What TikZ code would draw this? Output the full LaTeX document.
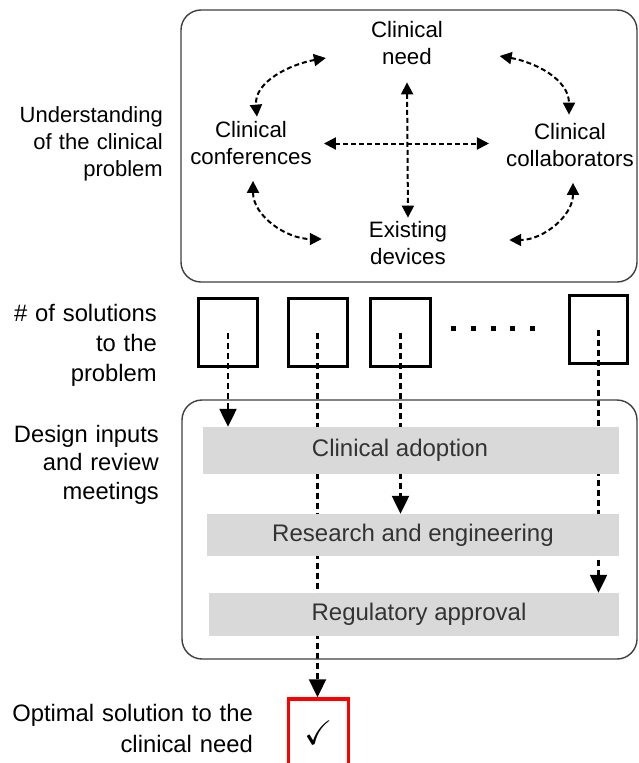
\documentclass[tikz,border=0pt]{standalone}
\usepackage{fontspec}
\setmainfont{Liberation Sans}
\usepackage{amssymb}
\usepackage{graphicx}
\usetikzlibrary{arrows.meta,backgrounds}

\newcommand\sidefont[2]{\fontsize{#1}{#2}\selectfont\spaceskip=0.33em plus 0.1em\relax}

\begin{document}
\begin{tikzpicture}[x=1pt,y=1pt,
        lbl/.style={align=center,inner sep=0pt,font=\fontsize{22.3}{27}\selectfont},
        side/.style={align=right,anchor=east,inner sep=0pt},
        sol/.style={draw,line width=3pt,minimum width=59pt,minimum height=68pt},
        stage/.style={fill=black!15,text=black!80,inner sep=0pt,font=\fontsize{24}{28}\selectfont},
        frame/.style={draw=black!75,line width=1.4pt,rounded corners=20pt},
        looparr/.style={{Triangle[width=12pt,length=12pt]}-{Triangle[width=12pt,length=12pt]},line width=2pt,dash pattern=on 5pt off 3pt},
        downarr/.style={-{Triangle[width=17pt,length=18pt]},line width=2.3pt,dash pattern=on 6pt off 4pt}]

            \useasboundingbox (0,0) rectangle (639,-763);

            % frames
            \draw[frame] (181,-10) rectangle (637,-282);
            \draw[frame] (182,-400) rectangle (637,-659);

            % understanding of the clinical problem
            \node (need) at (407,-43.5) [lbl] {Clinical\\need};
            \node (conf) at (251,-143.5) [lbl] {Clinical\\conferences};
            \node (collab) at (570,-145.5) [lbl] {Clinical\\collaborators};
            \node (exist) at (408,-243.5) [lbl] {Existing\\devices};

            \draw[looparr] ([yshift=-17pt]need.south) -- ([yshift=4pt]exist.north);
            \draw[looparr] ([xshift=12pt]conf.east) -- ([xshift=-17pt]collab.west |- conf.east);
            \draw[looparr] ([xshift=-45pt,yshift=-14.5pt]need.west) to[out=190,in=95] ([xshift=6pt,yshift=5pt]conf.north);
            \draw[looparr] ([xshift=56.5pt,yshift=-12.5pt]need.east) to[out=-10,in=90] ([xshift=-1pt,yshift=9pt]collab.north);
            \draw[looparr] ([xshift=2pt,yshift=-15.5pt]conf.south) to[out=-90,in=180] ([xshift=-47pt,yshift=4.5pt]exist.west);
            \draw[looparr] ([xshift=3pt,yshift=-15.5pt]collab.south) to[out=-90,in=0] ([xshift=62pt,yshift=3.5pt]exist.east);

            % solutions
            \node (s1) at (228,-332.5) [sol] {};
            \node (s2) at (317.5,-332.5) [sol] {};
            \node (s3) at (400.5,-332.5) [sol,minimum width=60pt] {};
            \node (s4) at (598.5,-329.5) [sol,minimum width=58pt] {};
            \foreach \x in {453,473,493,512,532}
                \fill (\x-2.5,-325.5) rectangle ++(5,-5);

            % design inputs
            \node (adopt) at (411,-450.5) [stage,minimum width=416pt,minimum height=47pt] {Clinical adoption\hspace*{22pt}};
            \node (research) at (413,-535) [stage,minimum width=412pt,minimum height=42pt] {Research and engineering};
            \node (reg) at (414,-614.5) [stage,minimum width=410pt,minimum height=43pt] {\hspace*{10pt}Regulatory approval};

            \node (best) at (318.5,-733) [draw=red,line width=3.5pt,minimum width=60pt,minimum height=68pt] {\scalebox{3.4}{$\checkmark$}};

            % side labels
            \node (lprob) at (163,-144) [side,font=\sidefont{22}{27}] {Understanding\\of the clinical\\problem};
            \node (lsol) at (157,-345) [side,font=\sidefont{23.8}{30}] {\# of solutions\\to the\\problem};
            \node (ldes) at (159,-464.5) [side,font=\sidefont{23.7}{28.5}] {Design inputs\\and review\hspace*{6pt}\\meetings};
            \node (lopt) at (253,-728.5) [side,font=\sidefont{23.8}{31}] {Optimal solution to the\\clinical need};

            \begin{pgfonlayer}{background}
                \fill[white] (0,0) rectangle (639,-763);
                \draw[downarr] (s1.center) -- (s1.center |- adopt.north);
                \draw[downarr] (s2.center) -- (s2.center |- best.north);
                \draw[downarr] (s3.center) -- (s3.center |- research.north);
                \draw[downarr] (s4.center) -- (s4.center |- reg.north);
            \end{pgfonlayer}

        \end{tikzpicture}
\end{document}
